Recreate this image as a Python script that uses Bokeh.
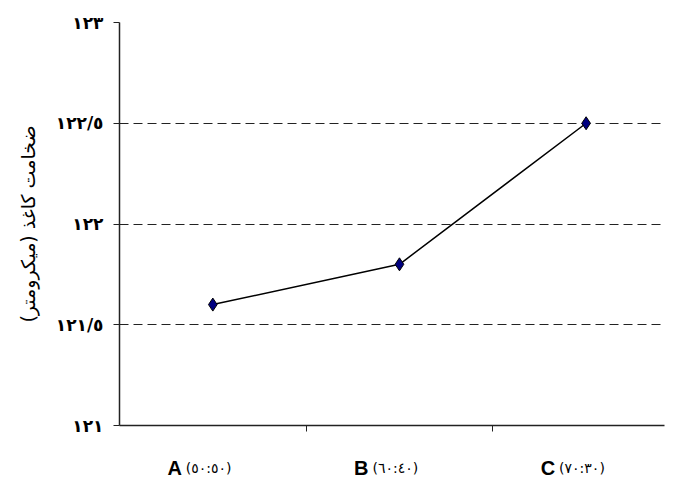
from bokeh.plotting import figure
from bokeh.layouts import column
from bokeh.models import Range1d, FixedTicker, ColumnDataSource
from bokeh.embed import file_html
from bokeh.resources import INLINE

# ---- data ----
categories = ["A", "B", "C"]
ratios = ["(٥٠:٥٠)", "(٦٠:٤٠)", "(٧٠:٣٠)"]
thickness = [121.6, 121.8, 122.5]
y_ticks = [121, 121.5, 122, 122.5, 123]
y_tick_labels = ["١٢١", "١٢١/٥", "١٢٢", "١٢٢/٥", "١٢٣"]
y_title = "ضخامت کاغذ (میکرومتر)"

xpos = [i + 0.5 for i in range(len(categories))]
src = ColumnDataSource(dict(x=xpos, y=thickness))
lab = ColumnDataSource(dict(x=xpos, cat=categories, rat=ratios))

x_range = Range1d(0, 2.92)

p = figure(width=665, height=436, output_backend="svg", toolbar_location=None,
           x_range=x_range, y_range=Range1d(121, 123),
           min_border_left=119, min_border_right=1, min_border_top=22, min_border_bottom=11)
p.outline_line_color = None

p.line("x", "y", source=src, line_color="black", line_width=1.5)
p.scatter("x", "y", source=src, marker="diamond", size=13, fill_color="#000080",
          line_color="black", line_width=1)

# grid
p.xgrid.grid_line_color = None
p.ygrid.grid_line_color = "#222222"
p.ygrid.grid_line_dash = "9 5"
p.ygrid.grid_line_width = 1

# y axis
p.yaxis.ticker = FixedTicker(ticks=y_ticks)
p.yaxis.major_label_overrides = {t: l for t, l in zip(y_ticks, y_tick_labels)}
p.yaxis.minor_tick_line_color = None
p.yaxis.major_tick_in = 0
p.yaxis.major_tick_out = 6
p.yaxis.axis_line_color = "#222222"
p.yaxis.axis_line_width = 1.5
p.yaxis.major_tick_line_color = "#222222"
p.yaxis.major_label_text_font = "DejaVu Sans"
p.yaxis.major_label_text_font_style = "bold"
p.yaxis.major_label_text_font_size = "17px"
p.yaxis.major_label_text_color = "black"
p.yaxis.major_label_standoff = 10
p.yaxis.axis_label = y_title
p.yaxis.axis_label_text_font = "DejaVu Sans"
p.yaxis.axis_label_text_font_style = "normal"
p.yaxis.axis_label_text_font_size = "19px"
p.yaxis.axis_label_text_color = "black"
p.yaxis.axis_label_standoff = 14

# x axis
p.xaxis.ticker = FixedTicker(ticks=[1, 2])
p.xaxis.major_label_overrides = {1: " ", 2: " "}
p.xaxis.minor_tick_line_color = None
p.xaxis.major_tick_in = 0
p.xaxis.major_tick_out = 6
p.xaxis.axis_line_color = "#222222"
p.xaxis.axis_line_width = 1.5
p.xaxis.major_tick_line_color = "#222222"
p.xaxis.major_label_text_font_size = "1px"
p.xaxis.major_label_standoff = 0

# category labels below the plot, sharing the x range
p2 = figure(width=665, height=42, output_backend="svg", toolbar_location=None,
            x_range=x_range, y_range=Range1d(0, 1),
            min_border_left=119, min_border_right=1, min_border_top=0, min_border_bottom=0)
p2.outline_line_color = None
p2.axis.visible = False
p2.grid.grid_line_color = None
p2.text("x", 0.26, text="cat", source=lab, x_offset=-31, text_align="right",
        text_baseline="middle", text_font={"value": "Liberation Sans"},
        text_font_style="bold", text_font_size="20px", text_color="black")
p2.text("x", 0.26, text="rat", source=lab, x_offset=-27, text_align="left",
        text_baseline="middle", text_font={"value": "DejaVu Sans"},
        text_font_size="14px", text_color="black")

layout = column(p, p2, spacing=0)
open("out.html", "w").write(file_html(layout, INLINE))
